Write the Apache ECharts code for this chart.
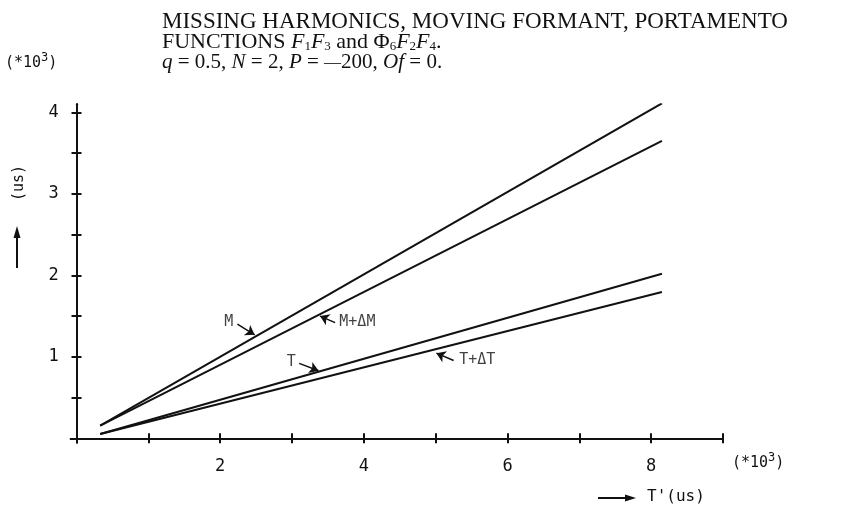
<!DOCTYPE html>
<html>
<head>
<meta charset="utf-8">
<script src="https://cdn.jsdelivr.net/npm/echarts@6/dist/echarts.min.js"></script>
<style>
html, body { margin: 0; padding: 0; background: #ffffff; }
#chart { width: 844px; height: 508px; }
</style>
</head>
<body>
<div id="chart"></div>
<script>
// T' in units of 10^3 us, at the two ends of every straight line
const tPrime = [0.33, 8.15];
// durations in units of 10^3 us
const mValues = [0.155, 4.11];
const mDeltaValues = [0.155, 3.65];
const tValues = [0.053, 2.02];
const tDeltaValues = [0.053, 1.795];

const seriesNames = ['M', 'M+ΔM', 'T', 'T+ΔT'];

// axis ticks and labels
const xTickValues = [0, 1, 2, 3, 4, 5, 6, 7, 8, 9];
const xLabelValues = [2, 4, 6, 8];
const yTickValues = [0, 0.5, 1, 1.5, 2, 2.5, 3, 3.5, 4];
const yLabelValues = [1, 2, 3, 4];

// curve labels: text anchor, arrow tail, arrow head (data units)
const labelText = ['M', 'M+ΔM', 'T', 'T+ΔT'];
const labelPos = [[2.12, 1.43], [3.91, 1.43], [2.99, 0.94], [5.58, 0.96]];
const arrowTail = [[2.24, 1.40], [3.60, 1.42], [3.10, 0.92], [5.25, 0.955]];
const arrowHead = [[2.48, 1.27], [3.39, 1.50], [3.37, 0.83], [5.01, 1.045]];

const INK = '#111111';
const PLOT_FONT = 'DejaVu Sans Mono';
const SERIF = 'Liberation Serif';

function pairs(xs, ys) { return xs.map((x, i) => [x, ys[i]]); }

const lineSeries = [mValues, mDeltaValues, tValues, tDeltaValues].map((vals, i) => ({
  name: seriesNames[i],
  type: 'line',
  xAxisIndex: 0,
  yAxisIndex: 0,
  data: pairs(tPrime, vals),
  symbol: 'none',
  silent: true,
  lineStyle: { color: INK, width: 2 },
  markLine: {
    silent: true,
    symbol: ['none', 'arrow'],
    symbolSize: 9,
    label: { show: false },
    lineStyle: { color: INK, width: 1.5, type: 'solid' },
    data: [[{ coord: arrowTail[i] }, { coord: arrowHead[i] }]]
  }
}));

const textSeries = {
  type: 'scatter',
  xAxisIndex: 0,
  yAxisIndex: 0,
  symbolSize: 0,
  silent: true,
  data: labelPos.map((p, i) => ({ value: p, name: labelText[i] })),
  label: {
    show: true,
    position: 'inside',
    formatter: (p) => p.name,
    color: INK,
    fontFamily: PLOT_FONT,
    fontSize: 15
  }
};

function makeXAxis(inside) {
  return {
    type: 'value',
    position: 'bottom',
    min: -0.08,
    max: 9,
    axisLine: { show: true, onZero: true, lineStyle: { color: INK, width: 2 } },
    axisTick: { show: true, inside: inside, length: 5, customValues: xTickValues, lineStyle: { color: INK, width: 2 } },
    axisLabel: {
      show: !inside,
      customValues: xLabelValues,
      margin: 16,
      color: INK,
      fontFamily: PLOT_FONT,
      fontSize: 17
    },
    splitLine: { show: false }
  };
}

function makeYAxis(inside) {
  return {
    type: 'value',
    position: 'left',
    min: -0.05,
    max: 4.1,
    axisLine: { show: true, onZero: true, lineStyle: { color: INK, width: 2 } },
    axisTick: { show: true, inside: inside, length: 5, customValues: yTickValues, lineStyle: { color: INK, width: 2 } },
    axisLabel: {
      show: !inside,
      customValues: yLabelValues,
      margin: 12,
      color: INK,
      fontFamily: PLOT_FONT,
      fontSize: 17
    },
    splitLine: { show: false }
  };
}

const titleLines = [
  { text: 'MISSING HARMONICS, MOVING FORMANT, PORTAMENTO', y: 22, size: 23 },
  { text: 'FUNCTIONS {i|F}{s|1}{i|F}{s|3} and Φ{s|6}{i|F}{s|2}{i|F}{s|4}.', y: 43, size: 22 },
  { text: '{i|q} = 0.5, {i|N} = 2, {i|P} = {d|—}200, {i|Of} = 0.', y: 64, size: 21 }
];

function richFor(size) {
  return {
    i: { fontFamily: SERIF, fontStyle: 'italic', fontSize: size, fill: INK },
    s: { fontFamily: SERIF, fontSize: 13, fill: INK, verticalAlign: 'bottom', padding: [9, 0, 0, 0] },
    d: { fontFamily: SERIF, fontSize: 17, fill: INK }
  };
}

const graphics = titleLines.map((t) => ({
  type: 'text',
  left: 162,
  top: t.y - 12,
  style: {
    text: t.text,
    rich: richFor(t.size),
    fontFamily: SERIF,
    fontSize: t.size,
    fill: INK
  }
}));

// axis unit captions and arrows
graphics.push(
  {
    type: 'text', left: 5, top: 52,
    style: { text: '(*10{sup|3})', fontFamily: PLOT_FONT, fontSize: 15, fill: INK,
      rich: { sup: { fontFamily: PLOT_FONT, fontSize: 12, fill: INK, padding: [0, 0, 10, 0] } } }
  },
  {
    type: 'text', left: 732, top: 452,
    style: { text: '(*10{sup|3})', fontFamily: PLOT_FONT, fontSize: 15, fill: INK,
      rich: { sup: { fontFamily: PLOT_FONT, fontSize: 12, fill: INK, padding: [0, 0, 10, 0] } } }
  },
  {
    type: 'text', x: 19, y: 183, rotation: Math.PI / 2,
    style: { text: '(us)', fontFamily: PLOT_FONT, fontSize: 15, fill: INK, align: 'center', verticalAlign: 'middle' }
  },
  {
    type: 'line', shape: { x1: 17, y1: 268, x2: 17, y2: 236 },
    style: { stroke: INK, lineWidth: 2 }
  },
  {
    type: 'polygon', shape: { points: [[17, 226], [13.5, 238], [20.5, 238]] },
    style: { fill: INK }
  },
  {
    type: 'line', shape: { x1: 598, y1: 498, x2: 626, y2: 498 },
    style: { stroke: INK, lineWidth: 2 }
  },
  {
    type: 'polygon', shape: { points: [[636, 498], [625, 494.5], [625, 501.5]] },
    style: { fill: INK }
  },
  {
    type: 'text', left: 647, top: 489,
    style: { text: "T'(us)", fontFamily: PLOT_FONT, fontSize: 16, fill: INK }
  }
);

const chart = echarts.init(document.getElementById('chart'), null, { renderer: 'canvas' });
chart.setOption({
  backgroundColor: '#ffffff',
  animation: false,
  grid: { left: 70.75, right: 121, top: 104.15, bottom: 65.6, containLabel: false },
  xAxis: [makeXAxis(false), makeXAxis(true)],
  yAxis: [makeYAxis(false), makeYAxis(true)],
  series: lineSeries.concat([textSeries]),
  graphic: graphics
});
</script>
</body>
</html>
